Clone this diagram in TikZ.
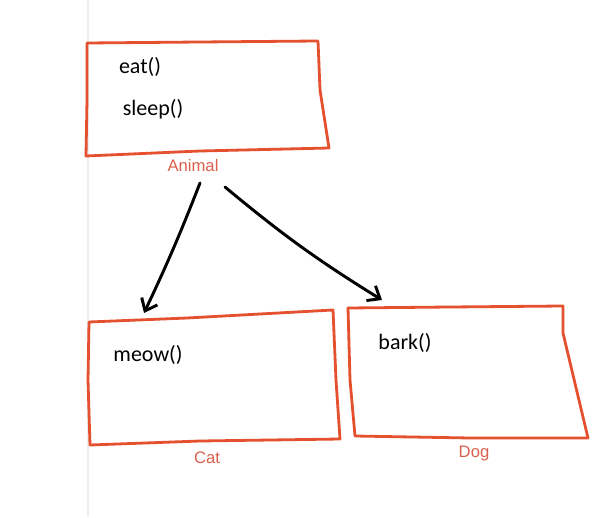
\documentclass[tikz,border=0pt]{standalone}
\usepackage{fontspec}
\setmainfont{Carlito}
\newfontfamily\labelfont{Liberation Sans}
\usetikzlibrary{arrows.meta}
\definecolor{penred}{HTML}{E5502E}
\definecolor{tagred}{HTML}{D9604C}
\tikzset{
  box/.style={penred,line width=2.1pt,line join=round},
  method/.style={font=\fontsize{16.5}{18}\selectfont,inner sep=0pt},
  tag/.style={tagred,font=\labelfont\fontsize{12.5}{14}\selectfont,inner sep=0pt},
  inherit/.style={line width=2.2pt,line cap=round,-{Straight Barb[length=8pt,width=13pt,line width=2.2pt]}}
}
\begin{document}
\begin{tikzpicture}[x=0.75pt,y=-0.75pt]
  \useasboundingbox (0,0) rectangle (602,517);
  \draw[black!7,line width=0.8pt] (88,0) -- (88,517);
  % Animal
  \draw[box] (87,43) -- (200,42) -- (318,41) -- (320,90) -- (329,148) -- (200,151) -- (86,156) -- (87,100) -- cycle;
  \node[method] (eat) at (140,67) {eat()};
  \node[method] (sleep) at (153,109) {sleep()};
  \node[tag] (animal) at (193,166) {Animal};
  % Cat
  \draw[box] (89,322) -- (187,318) -- (333,310) -- (336,380) -- (340,439) -- (200,441) -- (90,445) -- (88,380) -- cycle;
  \node[method] (meow) at (148,355) {meow()};
  \node[tag] (cat) at (207,458) {Cat};
  % Dog
  \draw[box] (348,308) -- (450,307) -- (563,306) -- (563,333) -- (588,438) -- (470,438) -- (355,436) -- (350,380) -- cycle;
  \node[method] (bark) at (405,343) {bark()};
  \node[tag] (dog) at (474,453) {Dog};
  % arrows
  \coordinate (a1) at (200,183);
  \coordinate (a2) at (225,187);
  \coordinate (catin) at (144,313);
  \coordinate (dogin) at (382,300);
  \draw[inherit] (a1) to[bend left=2] (catin);
  \draw[inherit] (a2) to[bend right=4] (dogin);
\end{tikzpicture}
\end{document}
